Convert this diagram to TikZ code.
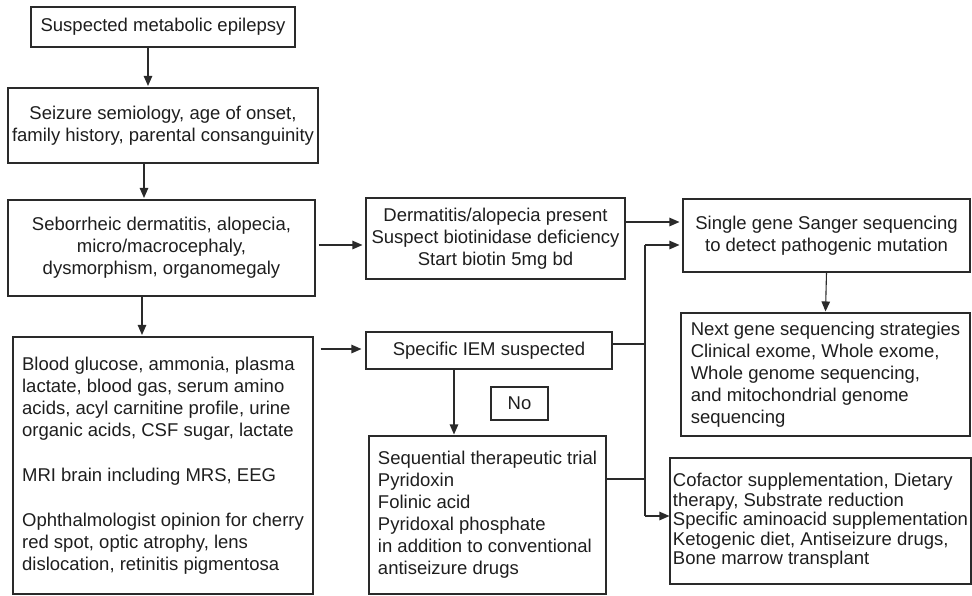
\documentclass[tikz,border=0pt]{standalone}
\usepackage{fontspec}
\setmainfont{Liberation Sans}
\usetikzlibrary{arrows.meta}
\definecolor{linec}{HTML}{2A2A2A}
\definecolor{textc}{HTML}{1E1E1E}
\begin{document}
\begin{tikzpicture}[x=1pt,y=-1pt,
  box/.style={draw=linec, line width=1.1pt, text=textc, inner sep=0pt,
    font=\fontsize{18.5}{22}\selectfont},
  arr/.style={draw=linec, line width=1.1pt, -{Triangle[length=10pt,width=8.5pt]}},
  ln/.style={draw=linec, line width=1.1pt}]
\useasboundingbox (0,0) rectangle (972,595);

\node[box, minimum width=264pt, minimum height=40pt] (b1) at (163,27) {Suspected metabolic epilepsy};
\node[box, align=center, minimum width=310pt, minimum height=75pt] (b2) at (163,125.5)
  {Seizure semiology, age of onset,\\family history, parental consanguinity};
\node[box, align=center, minimum width=307pt, minimum height=96pt] (b3) at (161.5,248)
  {Seborrheic dermatitis, alopecia,\\micro/macrocephaly,\\dysmorphism, organomegaly};
\node[box, align=left, minimum width=300pt, minimum height=257pt] (b4) at (163,465.5)
  {Blood glucose, ammonia, plasma\\lactate, blood gas, serum amino\\acids, acyl carnitine profile, urine\\organic acids, CSF sugar, lactate\\[23pt]MRI brain including MRS, EEG\\[23pt]Ophthalmologist opinion for cherry\\red spot, optic atrophy, lens\\dislocation, retinitis pigmentosa};
\node[box, align=center, minimum width=259pt, minimum height=81pt] (derm) at (495.5,238.5)
  {Dermatitis/alopecia present\\Suspect biotinidase deficiency\\Start biotin 5mg bd};
\node[box, minimum width=246pt, minimum height=37pt] (iem) at (489,350.5) {Specific IEM suspected};
\node[box, minimum width=57pt, minimum height=33pt] (no) at (519.5,403.5) {No};
\node[box, align=left, minimum width=237pt, minimum height=158pt] (seq) at (487.5,515)
  {Sequential therapeutic trial\\Pyridoxin\\Folinic acid\\Pyridoxal phosphate\\in addition to conventional\\antiseizure drugs};
\node[box, align=center, minimum width=287pt, minimum height=73pt] (single) at (826.5,235.5)
  {Single gene Sanger sequencing\\to detect pathogenic mutation};
\node[box, align=left, minimum width=289pt, minimum height=123pt] (next) at (825.5,374.5)
  {Next gene sequencing strategies\\Clinical exome, Whole exome,\\Whole genome sequencing,\\and mitochondrial genome\\sequencing};
\node[box, align=left, minimum width=301pt, minimum height=126pt,
  font=\fontsize{18.5}{19.5}\selectfont] (cof) at (820.5,521)
  {Cofactor supplementation, Dietary\\therapy, Substrate reduction\\Specific aminoacid supplementation\\Ketogenic diet, Antiseizure drugs,\\Bone marrow transplant};

% vertical flow on the left
\draw[arr, shorten >=1.5pt] ([xshift=-15pt]b1.south) -- ([xshift=-15pt]b1.south |- b2.north);
\draw[arr, shorten >=1.5pt] ([xshift=-19pt]b2.south) -- ([xshift=-19pt]b2.south |- b3.north);
\draw[arr, shorten >=1.5pt] ([xshift=-19.5pt]b3.south) -- ([xshift=-19.5pt]b3.south |- b4.north);

% horizontal arrows
\draw[arr, shorten <=3pt, shorten >=3pt] ([yshift=3pt]b3.east) -- ([yshift=3pt]b3.east -| derm.west);
\draw[arr, shorten <=7pt, shorten >=4pt] ([yshift=1.5pt]iem.west -| b4.east) -- ([yshift=1.5pt]iem.west);
\draw[arr, shorten >=3pt] ([yshift=16.5pt]derm.east) -- ([yshift=16.5pt]derm.east -| single.west);
\draw[arr, shorten >=1pt] ([xshift=-35pt]iem.south) -- ([xshift=-35pt]iem.south |- seq.north);
\draw[arr, shorten >=1pt] (single.south) -- (next.north);

% bus on the right
\coordinate (bt) at (645,245);
\coordinate (bb) at (645,516);
\draw[ln] ([yshift=6.5pt]iem.east) -- ([yshift=6.5pt]iem.east -| bt);
\draw[ln] ([yshift=36pt]seq.east) -- ([yshift=36pt]seq.east -| bt);
\draw[ln] (bt) -- (bb);
\draw[arr, shorten >=3pt] (bt) -- (bt -| single.west);
\draw[arr] (bb) -- (bb -| cof.west);
\end{tikzpicture}
\end{document}
